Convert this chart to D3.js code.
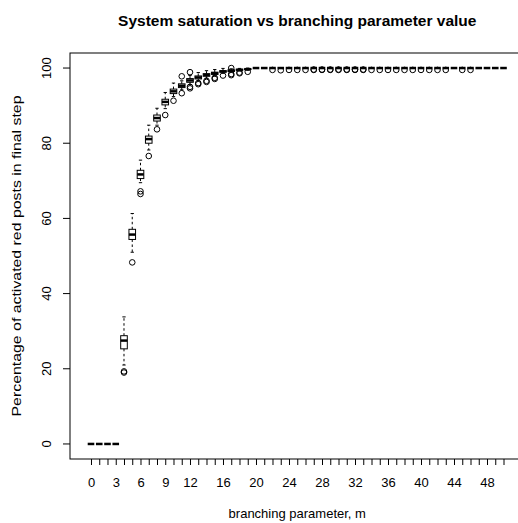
<!DOCTYPE html>
<html>
<head>
<meta charset="utf-8">
<script src="https://cdn.jsdelivr.net/npm/d3@7"></script>
<style>
  html, body { margin: 0; padding: 0; background: #fff; }
  svg { display: block; font-family: "Liberation Sans", Arial, Helvetica, sans-serif; }
</style>
</head>
<body>
<svg id="chart" width="518" height="523"></svg>
<script>
// Branching parameter m for each box
const mValues = [0,1,2,3,4,5,6,7,8,9,10,11,12,13,14,15,16,17,18,19,20,
  21,22,23,24,25,26,27,28,29,30,31,32,33,34,35,36,37,38,39,40,
  41,42,43,44,45,46,47,48,49,50];

// Five-number summaries (percent of activated red posts in final step)
const lowerWhisker = [0,0,0,0,21.0,51.0,69.5,78.2,84.8,89.2,92.4,94.2,95.6,96.6,97.3,97.9,98.6,98.9,99.2,99.4,100,
  100,100,100,100,100,100,100,100,100,100,100,100,100,100,100,100,100,100,100,100,
  100,100,100,100,100,100,100,100,100,100];
const q1 = [0,0,0,0,25.3,54.4,70.6,80.0,85.9,90.2,93.2,94.8,96.2,97.1,97.8,98.3,98.9,99.1,99.4,99.6,100,
  100,100,100,100,100,100,100,100,100,100,100,100,100,100,100,100,100,100,100,100,
  100,100,100,100,100,100,100,100,100,100];
const median = [0,0,0,0,27.5,55.7,71.7,81.1,86.7,91.0,93.8,95.3,96.7,97.5,98.2,98.6,99.1,99.3,99.5,99.7,100,
  100,100,100,100,100,100,100,100,100,100,100,100,100,100,100,100,100,100,100,100,
  100,100,100,100,100,100,100,100,100,100];
const q3 = [0,0,0,0,28.8,57.1,72.8,81.9,87.5,91.7,94.4,95.8,97.2,97.9,98.5,98.9,99.3,99.5,99.7,99.8,100,
  100,100,100,100,100,100,100,100,100,100,100,100,100,100,100,100,100,100,100,100,
  100,100,100,100,100,100,100,100,100,100];
const upperWhisker = [0,0,0,0,33.8,61.3,75.5,84.8,89.3,93.5,96.0,96.6,98.0,98.8,99.3,99.6,99.9,99.8,99.9,100,100,
  100,100,100,100,100,100,100,100,100,100,100,100,100,100,100,100,100,100,100,100,
  100,100,100,100,100,100,100,100,100,100];
// Outlying runs for each m
const outliers = [[],[],[],[],[19.0,19.3],[48.3],[66.5,67.2],[76.6],[83.7],[87.5],[91.3],
  [97.8,93.3],[98.9,95.0,94.6],[96.0,95.7],[96.6,96.3],[97.1,97.4],[98.0],[100,98.4,98.1],[98.8,98.6],[99.0],[],
  [],[99.5],[99.4],[99.5],[99.5],[99.5],[99.5,99.6],[99.5,99.6],[99.5,99.6],[99.5,99.6],[99.5,99.6],[99.5,99.6],[99.5,99.6],[99.5],[99.5],[99.5],[99.5],[99.5],[99.5],[99.5],
  [99.5],[99.5],[99.5],[],[99.5],[99.5],[],[],[],[]];

const xTickLabels = [0,3,6,9,12,16,20,24,28,32,36,40,44,48];
const yTicks = [0,20,40,60,80,100];

const titleText = "System saturation vs branching parameter value";
const xTitle = "branching parameter, m";
const yTitle = "Percentage of activated red posts in final step";

const svg = d3.select("#chart");
const plot = { left: 70, right: 524.5, top: 53, bottom: 459 };

const x = d3.scalePoint()
  .domain(mValues)
  .range([plot.left, plot.right])
  .padding(2.545);
const y = d3.scaleLinear().domain([-4, 104]).range([plot.bottom, plot.top]);

const boxW = x.step() * 0.8;
const stapleW = boxW * 0.5;

const rows = mValues.map((m, i) => ({
  m, lw: lowerWhisker[i], q1: q1[i], med: median[i], q3: q3[i], uw: upperWhisker[i], out: outliers[i]
}));

const g = svg.append("g");

const box = g.selectAll("g.box").data(rows).join("g").attr("class", "box");

// dashed whiskers
box.append("line")
  .attr("x1", d => x(d.m)).attr("x2", d => x(d.m))
  .attr("y1", d => y(d.q3)).attr("y2", d => y(d.uw))
  .attr("stroke", "#000").attr("stroke-width", 1).attr("stroke-dasharray", "2.5,2.5");
box.append("line")
  .attr("x1", d => x(d.m)).attr("x2", d => x(d.m))
  .attr("y1", d => y(d.q1)).attr("y2", d => y(d.lw))
  .attr("stroke", "#000").attr("stroke-width", 1).attr("stroke-dasharray", "2.5,2.5");

// staples
box.append("line")
  .attr("x1", d => x(d.m) - stapleW / 2).attr("x2", d => x(d.m) + stapleW / 2)
  .attr("y1", d => y(d.uw)).attr("y2", d => y(d.uw))
  .attr("stroke", "#000").attr("stroke-width", 1);
box.append("line")
  .attr("x1", d => x(d.m) - stapleW / 2).attr("x2", d => x(d.m) + stapleW / 2)
  .attr("y1", d => y(d.lw)).attr("y2", d => y(d.lw))
  .attr("stroke", "#000").attr("stroke-width", 1);

// boxes
box.append("rect")
  .attr("x", d => x(d.m) - boxW / 2)
  .attr("width", boxW)
  .attr("y", d => y(d.q3))
  .attr("height", d => y(d.q1) - y(d.q3))
  .attr("fill", "none").attr("stroke", "#000").attr("stroke-width", 1);

// medians
box.append("line")
  .attr("x1", d => x(d.m) - boxW / 2).attr("x2", d => x(d.m) + boxW / 2)
  .attr("y1", d => y(d.med)).attr("y2", d => y(d.med))
  .attr("stroke", "#000").attr("stroke-width", 2.5);

// outliers
box.selectAll("circle").data(d => d.out.map(v => ({ m: d.m, v }))).join("circle")
  .attr("cx", d => x(d.m)).attr("cy", d => y(d.v)).attr("r", 2.8)
  .attr("fill", "none").attr("stroke", "#000").attr("stroke-width", 1);

// frame
svg.append("rect")
  .attr("x", plot.left).attr("y", plot.top)
  .attr("width", plot.right - plot.left).attr("height", plot.bottom - plot.top)
  .attr("fill", "none").attr("stroke", "#000").attr("stroke-width", 1);

// x axis: tick at every m, labels only where they fit
const xAxis = d3.axisBottom(x)
  .tickSize(6).tickPadding(13)
  .tickFormat(d => xTickLabels.includes(d) ? String(d) : "");
const xa = svg.append("g").attr("transform", `translate(0,${plot.bottom})`).call(xAxis);
xa.select(".domain").remove();
xa.selectAll("text").attr("font-size", 13).attr("fill", "#000").attr("font-family", null);

// y axis
const yAxis = d3.axisLeft(y).tickValues(yTicks).tickSize(7).tickPadding(0).tickFormat(d3.format("d"));
const ya = svg.append("g").attr("transform", `translate(${plot.left},0)`).call(yAxis);
ya.select(".domain").remove();
ya.selectAll("text")
  .attr("font-size", 13).attr("fill", "#000").attr("font-family", null)
  .attr("x", 0).attr("dy", null)
  .attr("text-anchor", "middle")
  .attr("transform", d => `translate(-19.5,${y(d)}) rotate(-90)`)
  .attr("y", 0);
ya.selectAll(".tick").attr("transform", null);
ya.selectAll(".tick line").attr("y1", d => y(d)).attr("y2", d => y(d)).attr("x1", 0).attr("x2", -7);

// titles
svg.append("text")
  .attr("x", (plot.left + plot.right) / 2).attr("y", 26)
  .attr("text-anchor", "middle").attr("font-size", 15.5).attr("font-weight", "bold")
  .text(titleText);
svg.append("text")
  .attr("x", (plot.left + plot.right) / 2).attr("y", 518)
  .attr("text-anchor", "middle").attr("font-size", 13)
  .text(xTitle);
// vertical title, slightly stretched along its length
svg.append("text")
  .attr("transform", `translate(20.5,256) rotate(-90) scale(1.22,1)`)
  .attr("text-anchor", "middle").attr("font-size", 13)
  .text(yTitle);
</script>
</body>
</html>
